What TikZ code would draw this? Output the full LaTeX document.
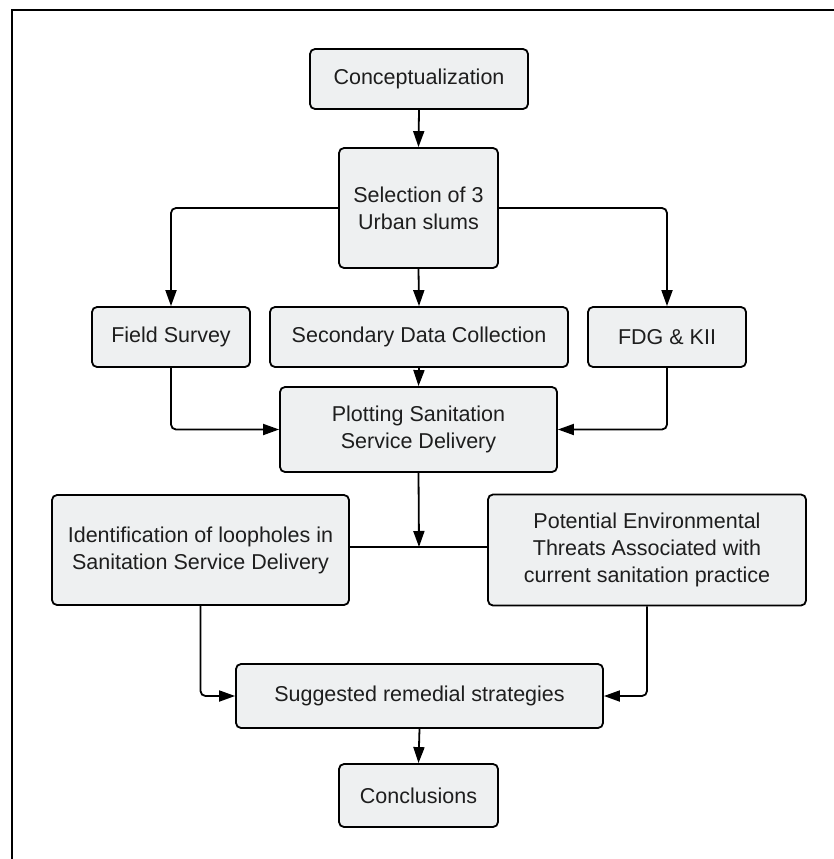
\documentclass[tikz,border=0pt]{standalone}
\usepackage{fontspec}
\setmainfont{Liberation Sans}
\usetikzlibrary{arrows.meta}
\definecolor{boxfill}{RGB}{238,240,241}
\definecolor{txt}{RGB}{30,30,30}
\tikzset{
  box/.style={draw=black, line width=1.8pt, fill=boxfill, rounded corners=5pt,
    align=center, inner sep=0pt, text=txt,
    font=\fontsize{21.5}{27}\selectfont},
  conn/.style={line width=1.8pt, rounded corners=5pt},
  arr/.style={conn, -{Triangle[length=16pt,width=11pt]}},
  frame/.style={line width=2pt}
}
\begin{document}
\begin{tikzpicture}[x=1pt,y=-1pt]
\useasboundingbox (0,0) rectangle (834,859);
\draw[frame] (12,859) -- (12,10) -- (834,10);

\node[box, minimum width=218pt, minimum height=60pt] (concept) at (419,79) {Conceptualization};
\node[box, minimum width=159pt, minimum height=120pt] (select) at (418.5,208) {Selection of 3\\Urban slums};
\node[box, minimum width=158pt, minimum height=60pt] (field) at (171,337) {Field Survey};
\node[box, minimum width=298pt, minimum height=60pt] (second) at (419,337) {Secondary Data Collection};
\node[box, minimum width=158pt, minimum height=60pt] (fdg) at (667,337) {FDG \& KII};
\node[box, minimum width=277pt, minimum height=85pt] (plot) at (418.5,429.5) {Plotting Sanitation\\Service Delivery};
\node[box, minimum width=297pt, minimum height=110pt] (ident) at (200.5,550) {Identification of loopholes in\\Sanitation Service Delivery};
\node[box, minimum width=318pt, minimum height=111pt] (pot) at (647,550) {Potential Environmental\\Threats Associated with\\current sanitation practice};
\node[box, minimum width=367pt, minimum height=64pt] (sugg) at (419.5,696) {Suggested remedial strategies};
\node[box, minimum width=159pt, minimum height=63pt] (concl) at (418.5,795.5) {Conclusions};

\coordinate (j) at (419,547);

\draw[arr] (concept.south) -- (select.north);
\draw[arr] (select.west |- 0,208) -- (171,208) -- (field.north);
\draw[arr] (select.east |- 0,208) -- (667,208) -- (fdg.north);
\draw[arr] (select.south) -- (second.north);
\draw[arr] (second.south) -- (plot.north);
\draw[arr] (field.south) |- (plot.west);
\draw[arr] (fdg.south) |- (plot.east);
\draw[conn] (ident.east |- j) -- (pot.west |- j);
\draw[arr] (plot.south) -- (j);
\draw[arr] (ident.south) |- (sugg.west);
\draw[arr] (pot.south) |- (sugg.east);
\draw[arr] (sugg.south) -- (concl.north);
\end{tikzpicture}
\end{document}
